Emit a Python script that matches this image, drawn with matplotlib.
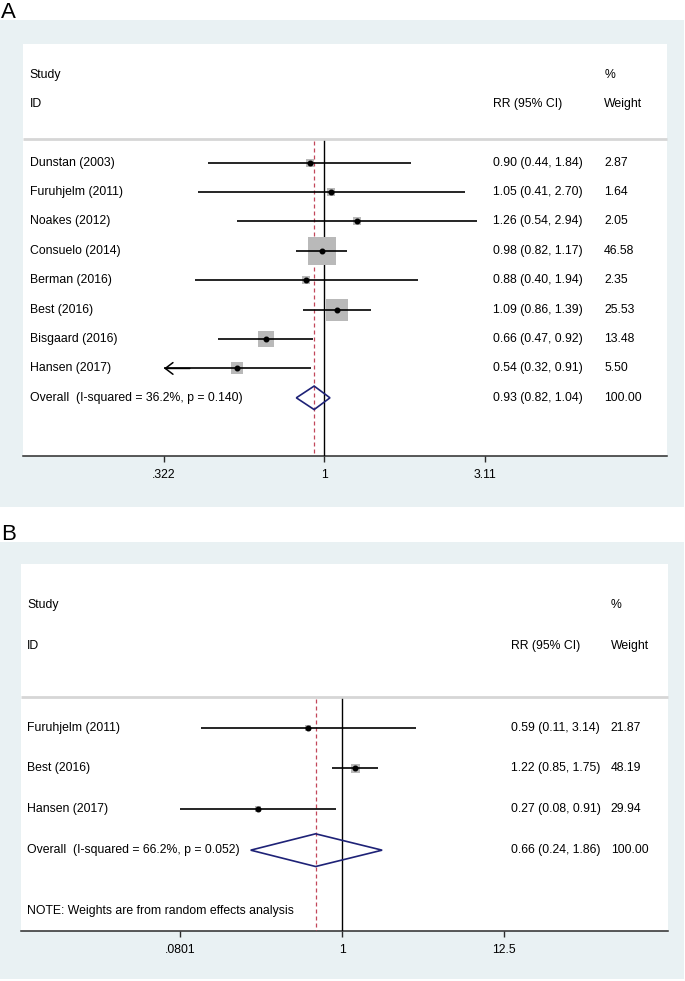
import numpy as np
import matplotlib
matplotlib.use('Agg')
import matplotlib.pyplot as plt
from matplotlib.patches import Rectangle, Polygon
from matplotlib.ticker import NullLocator, FixedLocator, FixedFormatter
import matplotlib.transforms as mtransforms

plt.rcParams['font.family'] = ['Liberation Sans', 'DejaVu Sans']

# ---------------- data: panel A ----------------
a_studies = ["Dunstan (2003)", "Furuhjelm (2011)", "Noakes (2012)", "Consuelo (2014)",
             "Berman (2016)", "Best (2016)", "Bisgaard (2016)", "Hansen (2017)"]
a_rr = [0.90, 1.05, 1.26, 0.98, 0.88, 1.09, 0.66, 0.54]
a_lo = [0.44, 0.41, 0.54, 0.82, 0.40, 0.86, 0.47, 0.32]
a_hi = [1.84, 2.70, 2.94, 1.17, 1.94, 1.39, 0.92, 0.91]
a_weight = [2.87, 1.64, 2.05, 46.58, 2.35, 25.53, 13.48, 5.50]
a_lo_clipped = [False, False, False, False, False, False, False, True]
a_overall = (0.93, 0.82, 1.04)
a_overall_label = "Overall  (I-squared = 36.2%, p = 0.140)"
a_overall_weight = "100.00"
a_ticks = [0.322, 1, 3.11]
a_tick_labels = [".322", "1", "3.11"]

# ---------------- data: panel B ----------------
b_studies = ["Furuhjelm (2011)", "Best (2016)", "Hansen (2017)"]
b_rr = [0.59, 1.22, 0.27]
b_lo = [0.11, 0.85, 0.08]
b_hi = [3.14, 1.75, 0.91]
b_weight = [21.87, 48.19, 29.94]
b_lo_clipped = [False, False, False]
b_overall = (0.66, 0.24, 1.86)
b_overall_label = "Overall  (I-squared = 66.2%, p = 0.052)"
b_overall_weight = "100.00"
b_ticks = [0.0801, 1, 12.5]
b_tick_labels = [".0801", "1", "12.5"]
b_note = "NOTE: Weights are from random effects analysis"

# ---------------- styles ----------------
W, H = 685, 981
DPI = 100
BG = '#e9f1f3'
BOXC = '#b9b9b9'
PX = 72.0 / DPI  # points per pixel
FS = 8.8

fig = plt.figure(figsize=(W / DPI, H / DPI), dpi=DPI)
fig.patch.set_facecolor('white')


def fx(px):
    return px / W


def fy(py):
    return 1 - py / H


def fmt_ci(r, l, h):
    return f"{r:.2f} ({l:.2f}, {h:.2f})"


def panel(letter, letter_base, bg_top, bg_bot, box_rect, xlim, ylim, studies, rr, lo, hi,
          weight, clipped, overall, overall_label, overall_w, ticks, tick_labels,
          box_px, cols, header_line_y, note=None, note_row=None):
    fig.text(fx(1), fy(letter_base), letter, fontsize=16, va='baseline', ha='left')
    fig.patches.append(Rectangle((0, fy(bg_bot)), fx(684), fy(bg_top) - fy(bg_bot),
                                 transform=fig.transFigure, facecolor=BG, edgecolor='none',
                                 zorder=-5))
    x0, y0, x1, y1 = box_rect
    ax = fig.add_axes([fx(x0), fy(y1), fx(x1) - fx(x0), fy(y0) - fy(y1)])
    ax.set_zorder(2)
    ax.set_facecolor('white')
    ax.set_xscale('log')
    ax.set_xlim(*xlim)
    ax.set_ylim(*ylim)
    for s in ['top', 'left', 'right']:
        ax.spines[s].set_visible(False)
    ax.spines['bottom'].set_color('#2b2b2b')
    ax.spines['bottom'].set_linewidth(1.1)
    ax.xaxis.set_major_locator(FixedLocator(ticks))
    ax.xaxis.set_major_formatter(FixedFormatter(tick_labels))
    ax.xaxis.set_minor_locator(NullLocator())
    ax.tick_params(axis='x', direction='out', length=4.3, width=1.0, color='#2b2b2b',
                   labelsize=FS, pad=5)
    ax.set_yticks([])

    tr = mtransforms.blended_transform_factory(ax.transAxes, ax.transData)
    c_study, c_rr, c_w = cols
    # header
    ax.text(c_study, -2, "Study", transform=tr, va='center', fontsize=FS)
    ax.text(c_study, -1, "ID", transform=tr, va='center', fontsize=FS)
    ax.text(c_rr, -1, "RR (95% CI)", transform=tr, va='center', fontsize=FS)
    ax.text(c_w, -2, "%", transform=tr, va='center', fontsize=FS)
    ax.text(c_w, -1, "Weight", transform=tr, va='center', fontsize=FS)
    ax.plot([0, 1], [header_line_y, header_line_y], transform=tr, color='#d6d6d6', lw=2.0,
            solid_capstyle='butt', zorder=2, clip_on=False)

    bottom = ylim[0]
    ax.plot([1, 1], [header_line_y + 0.05, bottom], color='black', lw=1.0, zorder=3)
    ax.plot([overall[0], overall[0]], [header_line_y + 0.05, bottom], color='#c2475a', lw=0.9,
            dashes=(3.2, 2.4), zorder=3)

    n = len(studies)
    for i in range(n):
        row = i + 1
        ax.text(c_study, row, studies[i], transform=tr, va='center', fontsize=FS)
        ax.text(c_rr, row, fmt_ci(rr[i], lo[i], hi[i]), transform=tr, va='center', fontsize=FS)
        ax.text(c_w, row, f"{weight[i]:.2f}", transform=tr, va='center', fontsize=FS)
        ax.plot([rr[i]], [row], marker='s', markersize=box_px[i] * PX, color=BOXC,
                markeredgewidth=0, zorder=4)
        if clipped[i]:
            ax.plot([ticks[0], hi[i]], [row, row], color='black', lw=1.2, zorder=5,
                    solid_capstyle='butt')
            ax.annotate('', xy=(ticks[0], row), xytext=(ticks[0] * 1.2, row),
                        arrowprops=dict(arrowstyle='->,head_length=0.55,head_width=0.42',
                                        lw=1.1, color='black', shrinkA=0, shrinkB=0),
                        zorder=5)
        else:
            ax.plot([lo[i], hi[i]], [row, row], color='black', lw=1.2, zorder=5,
                    solid_capstyle='butt')
        ax.plot([rr[i]], [row], marker='o', markersize=3.3, color='black', zorder=6)

    orow = n + 1
    ax.text(c_study, orow, overall_label, transform=tr, va='center', fontsize=FS)
    ax.text(c_rr, orow, fmt_ci(*overall), transform=tr, va='center', fontsize=FS)
    ax.text(c_w, orow, overall_w, transform=tr, va='center', fontsize=FS)
    e, l, h = overall
    dia = Polygon([(l, orow), (e, orow - 0.4), (h, orow), (e, orow + 0.4)], closed=True,
                  facecolor='none', edgecolor='#1e2277', lw=1.2, zorder=6)
    ax.add_patch(dia)
    if note:
        ax.text(c_study, note_row, note, transform=tr, va='center', fontsize=FS)
    return ax


# panel A box sizes (px) from weights
a_box = [3.78 * np.sqrt(w) + 2.2 for w in a_weight]
b_box = [6.3, 9.0, 6.7]

panel('A', 18, 20, 507, (23, 44, 667, 456), (np.exp(-2.130), np.exp(2.421)), (10.98, -3.04),
      a_studies, a_rr, a_lo, a_hi, a_weight, a_lo_clipped, a_overall, a_overall_label,
      a_overall_weight, a_ticks, a_tick_labels, a_box, (0.0105, 0.7295, 0.9025), 0.2)

panel('B', 540, 541.7, 979.3, (21, 564, 668, 930.7), (np.exp(-5.005), np.exp(5.074)), (5.97, -3.0),
      b_studies, b_rr, b_lo, b_hi, b_weight, b_lo_clipped, b_overall, b_overall_label,
      b_overall_weight, b_ticks, b_tick_labels, b_box, (0.0094, 0.7575, 0.9115), 0.25,
      note=b_note, note_row=5.5)

fig.savefig('out.png', dpi=DPI)
